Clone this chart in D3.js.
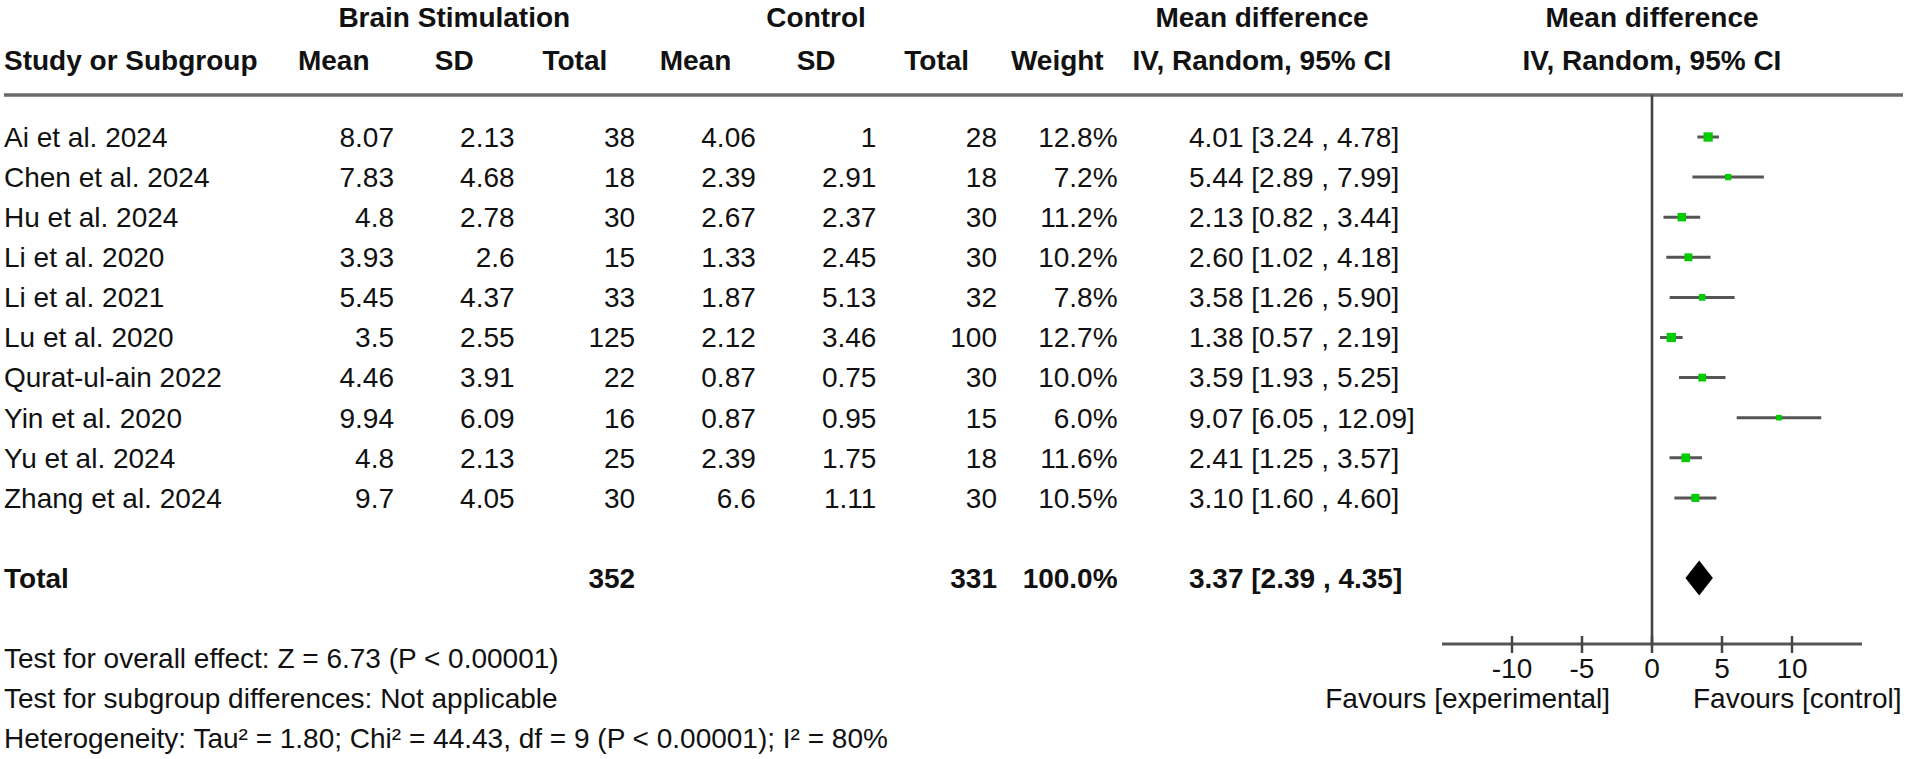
<!DOCTYPE html>
<html>
<head>
<script src="https://cdn.jsdelivr.net/npm/d3@7"></script>
<style>
  body { margin: 0; background: #fff; }
  svg text { font-family: "Liberation Sans", Arial, Helvetica, sans-serif; fill: #111; }
</style>
</head>
<body>
<div id="vis"></div>
<script type="text/javascript">

var studies = ["Ai et al. 2024", "Chen et al. 2024", "Hu et al. 2024", "Li et al. 2020", "Li et al. 2021",
               "Lu et al. 2020", "Qurat-ul-ain 2022", "Yin et al. 2020", "Yu et al. 2024", "Zhang et al. 2024"];
var expMean = ["8.07", "7.83", "4.8", "3.93", "5.45", "3.5", "4.46", "9.94", "4.8", "9.7"];
var expSD   = ["2.13", "4.68", "2.78", "2.6", "4.37", "2.55", "3.91", "6.09", "2.13", "4.05"];
var expN    = [38, 18, 30, 15, 33, 125, 22, 16, 25, 30];
var ctlMean = ["4.06", "2.39", "2.67", "1.33", "1.87", "2.12", "0.87", "0.87", "2.39", "6.6"];
var ctlSD   = ["1", "2.91", "2.37", "2.45", "5.13", "3.46", "0.75", "0.95", "1.75", "1.11"];
var ctlN    = [28, 18, 30, 30, 32, 100, 30, 15, 18, 30];
var weights = [12.8, 7.2, 11.2, 10.2, 7.8, 12.7, 10.0, 6.0, 11.6, 10.5];
var md      = [4.01, 5.44, 2.13, 2.60, 3.58, 1.38, 3.59, 9.07, 2.41, 3.10];
var ciLow   = [3.24, 2.89, 0.82, 1.02, 1.26, 0.57, 1.93, 6.05, 1.25, 1.60];
var ciHigh  = [4.78, 7.99, 3.44, 4.18, 5.90, 2.19, 5.25, 12.09, 3.57, 4.60];

var totalExpN = 352, totalCtlN = 331, totalWeight = "100.0%";
var pooled = {md: 3.37, lo: 2.39, hi: 4.35};
var axisTicks = [-10, -5, 0, 5, 10];
var footer = ["Test for overall effect: Z = 6.73 (P < 0.00001)",
              "Test for subgroup differences: Not applicable",
              "Heterogeneity: Tau\u00b2 = 1.80; Chi\u00b2 = 44.43, df = 9 (P < 0.00001); I\u00b2 = 80%"];

var w = 1907, h = 759, fs = 28;
const svg = d3.select("#vis").append("svg")
    .attr("width", w).attr("height", h)
    .attr("viewBox", [0, 0, w, h]);

var rowY = d3.scaleLinear().domain([0, 1]).range([137, 177.1]);
var totalY = 578, axisY = 644, lineY = 95;
var x = d3.scaleLinear().domain([-15, 15]).range([1442, 1862]);

// numeric columns, right edges on a regular grid
var colW = 120.6;
var keys = ["mean", "sd", "n", "cmean", "csd", "cn", "wt"];
var heads = ["Mean", "SD", "Total", "Mean", "SD", "Total", "Weight"];
var colRight = d3.scaleLinear().domain([0, 1]).range([394, 394 + colW]);
var ciX = 1189;

function txt(x0, y0, s, anchor, bold) {
    return svg.append("text")
        .attr("x", x0).attr("y", y0)
        .attr("dy", "0.35em")
        .attr("text-anchor", anchor || "start")
        .style("font-size", fs + "px")
        .style("font-weight", bold ? "bold" : "normal")
        .text(s);
}

// headers
txt((colRight(0) - colW + colRight(2)) / 2, 17, "Brain Stimulation", "middle", true);
txt((colRight(3) - colW + colRight(5)) / 2, 17, "Control", "middle", true);
txt(1262, 17, "Mean difference", "middle", true);
txt(x(0), 17, "Mean difference", "middle", true);
txt(4, 60, "Study or Subgroup", "start", true);
heads.forEach((s, i) => txt(colRight(i) - colW / 2, 60, s, "middle", true));
txt(1262, 60, "IV, Random, 95% CI", "middle", true);
txt(x(0), 60, "IV, Random, 95% CI", "middle", true);

svg.append("line")
    .attr("x1", 4).attr("x2", 1903).attr("y1", lineY).attr("y2", lineY)
    .attr("stroke", "#6a6a6a").attr("stroke-width", 3.5);

// table rows
var rows = studies.map((s, i) => ({
    study: s, mean: expMean[i], sd: expSD[i], n: expN[i],
    cmean: ctlMean[i], csd: ctlSD[i], cn: ctlN[i],
    wt: weights[i].toFixed(1) + "%",
    md: md[i], lo: ciLow[i], hi: ciHigh[i], w: weights[i]
}));

rows.forEach((r, i) => {
    var y0 = rowY(i);
    txt(4, y0, r.study);
    keys.forEach((k, j) => txt(colRight(j), y0, r[k], "end"));
    txt(ciX, y0, r.md.toFixed(2) + " [" + r.lo.toFixed(2) + " , " + r.hi.toFixed(2) + "]");
});

txt(4, totalY, "Total", "start", true);
txt(colRight(2), totalY, totalExpN, "end", true);
txt(colRight(5), totalY, totalCtlN, "end", true);
txt(colRight(6), totalY, totalWeight, "end", true);
txt(ciX, totalY, pooled.md.toFixed(2) + " [" + pooled.lo.toFixed(2) + " , " + pooled.hi.toFixed(2) + "]", "start", true);

footer.forEach((f, i) => txt(4, 658 + i * 40, f));

// forest plot
svg.append("line")
    .attr("x1", x(0)).attr("x2", x(0)).attr("y1", lineY).attr("y2", axisY)
    .attr("stroke", "#444").attr("stroke-width", 2.6);

var g = svg.append("g");
g.selectAll("line.ci").data(rows).join("line")
    .attr("class", "ci")
    .attr("x1", d => x(d.lo)).attr("x2", d => x(d.hi))
    .attr("y1", (d, i) => rowY(i)).attr("y2", (d, i) => rowY(i))
    .attr("stroke", "#555").attr("stroke-width", 3);

var side = d => 2.5 + 0.53 * d.w;
g.selectAll("rect.pt").data(rows).join("rect")
    .attr("class", "pt")
    .attr("x", d => x(d.md) - side(d) / 2)
    .attr("y", (d, i) => rowY(i) - side(d) / 2)
    .attr("width", side).attr("height", side)
    .attr("fill", "#00cc00");

var dh = 17.5;
svg.append("path")
    .attr("d", d3.line()([[x(pooled.lo), totalY], [x(pooled.md), totalY - dh],
                          [x(pooled.hi), totalY], [x(pooled.md), totalY + dh]]) + "Z")
    .attr("fill", "#000");

// axis
svg.append("line")
    .attr("x1", x.range()[0]).attr("x2", x.range()[1]).attr("y1", axisY).attr("y2", axisY)
    .attr("stroke", "#555").attr("stroke-width", 3);
svg.selectAll("line.tick").data(axisTicks).join("line")
    .attr("class", "tick")
    .attr("x1", d => x(d)).attr("x2", d => x(d))
    .attr("y1", axisY - 8).attr("y2", axisY + 9)
    .attr("stroke", "#444").attr("stroke-width", 2.5);
axisTicks.forEach(t => txt(x(t), 668, t, "middle"));

txt(x(0) - 42, 698, "Favours [experimental]", "end");
txt(x(0) + 41, 698, "Favours [control]", "start");

</script>
</body>
</html>
